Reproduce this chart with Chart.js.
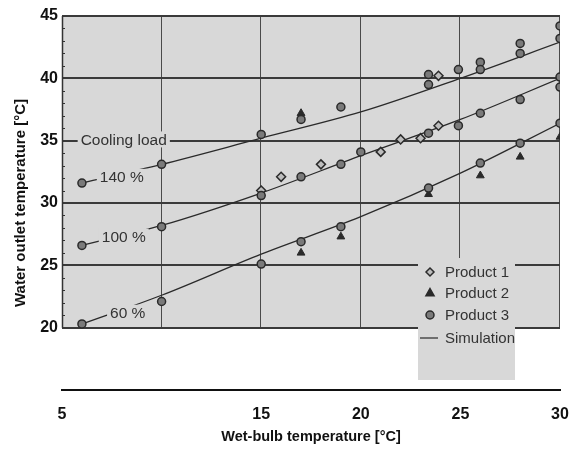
<!DOCTYPE html>
<html><head><meta charset="utf-8">
<script src="https://cdn.jsdelivr.net/npm/chart.js@4"></script>
<style>html,body{margin:0;padding:0;background:#fff}#wrap{width:576px;height:450px;position:relative}</style>
</head><body><div id="wrap"><canvas id="c" width="576" height="450"></canvas></div>
<script>
// ---- data ----
const simX   = [6, 10, 15, 20, 25, 30];
const sim140 = [31.6, 33.1, 35.2, 37.3, 40.0, 42.9];
const sim100 = [26.6, 28.2, 30.8, 33.8, 36.7, 40.0];
const sim60  = [20.3, 22.6, 25.9, 28.9, 32.4, 36.4];

const p1X = [15, 16, 18, 21, 22, 23, 23.9, 23.9];
const p1Y = [31.0, 32.1, 33.1, 34.1, 35.1, 35.2, 36.2, 40.2];

const p2X = [17, 17, 19, 23.4, 26, 28, 30];
const p2Y = [37.2, 26.0, 27.3, 30.7, 32.2, 33.7, 35.3];

const p3X = [6, 6, 6, 10, 10, 10, 15, 15, 15, 17, 17, 17, 19, 19, 19, 20,
             23.4, 23.4, 23.4, 23.4, 24.9, 24.9, 26, 26, 26, 26, 28, 28, 28, 28,
             30, 30, 30, 30, 30];
const p3Y = [31.6, 26.6, 20.3, 33.1, 28.1, 22.1, 35.5, 30.6, 25.1, 36.7, 32.1, 26.9, 37.7, 33.1, 28.1, 34.1,
             40.3, 39.5, 35.6, 31.2, 40.7, 36.2, 41.3, 40.7, 37.2, 33.2, 42.8, 42.0, 38.3, 34.8,
             44.2, 43.2, 40.1, 39.3, 36.4];

const xTickValues = [5, 10, 15, 20, 25, 30];
const xTickLabels = ['5', '', '15', '20', '25', '30'];
const yTickValues = [20, 25, 30, 35, 40, 45];
const seriesNames = ['Product 1', 'Product 2', 'Product 3', 'Simulation'];
const loadLabels  = ['140 %', '100 %', '60 %'];
const headerLabel = 'Cooling load';
const xTitle = 'Wet-bulb temperature [°C]';
const yTitle = 'Water outlet temperature [°C]';

// ---- helpers ----
const pts = (xs, ys) => xs.map((v, i) => ({x: v, y: ys[i]}));
const bgColor = '#d8d8d8';
const ink = '#2a2a2a';
const FAM = '"Liberation Sans", Arial, sans-serif';

// annotation anchors in data units
const labelAnchors = [
  {text: headerLabel, x: 8.1, y: 35.1},
  {text: loadLabels[0], x: 8.0, y: 32.1},
  {text: loadLabels[1], x: 8.1, y: 27.3},
  {text: loadLabels[2], x: 8.3, y: 21.2}
];

function drawMarker(ctx, style, cx, cy) {
  ctx.save();
  ctx.lineWidth = 1.5;
  ctx.strokeStyle = ink;
  if (style === 'rectRot') {
    const r = 4;
    ctx.fillStyle = '#bdbdbd';
    ctx.beginPath();
    ctx.moveTo(cx, cy - r); ctx.lineTo(cx + r, cy); ctx.lineTo(cx, cy + r); ctx.lineTo(cx - r, cy); ctx.closePath();
    ctx.fill(); ctx.stroke();
  } else if (style === 'triangle') {
    const r = 4.5;
    ctx.fillStyle = ink;
    ctx.beginPath();
    ctx.moveTo(cx, cy - r); ctx.lineTo(cx + r * 0.9, cy + r * 0.6); ctx.lineTo(cx - r * 0.9, cy + r * 0.6); ctx.closePath();
    ctx.fill(); ctx.stroke();
  } else if (style === 'circle') {
    ctx.fillStyle = '#7a7a7a';
    ctx.beginPath(); ctx.arc(cx, cy, 4, 0, Math.PI * 2); ctx.fill(); ctx.stroke();
  } else {
    ctx.lineWidth = 1.2;
    ctx.beginPath(); ctx.moveTo(cx - 10, cy); ctx.lineTo(cx + 8, cy); ctx.stroke();
  }
  ctx.restore();
}

const deco = {
  id: 'deco',
  beforeDatasetsDraw(chart) {
    const {ctx, scales: {x, y}} = chart;
    const L = x.getPixelForValue(5), R = x.getPixelForValue(30);
    const T = y.getPixelForValue(45), B = y.getPixelForValue(20);
    ctx.save();
    ctx.fillStyle = bgColor;
    ctx.fillRect(L, T, R - L, B - T);
    ctx.strokeStyle = '#4a4a4a'; ctx.lineWidth = 1;
    xTickValues.slice(1).forEach(v => {
      const px = Math.round(x.getPixelForValue(v)) - 0.5;
      ctx.beginPath(); ctx.moveTo(px, T); ctx.lineTo(px, B); ctx.stroke();
    });
    ctx.strokeStyle = '#3a3a3a'; ctx.lineWidth = 2;
    yTickValues.forEach(v => {
      const py = Math.round(y.getPixelForValue(v));
      ctx.beginPath(); ctx.moveTo(L, py); ctx.lineTo(R, py); ctx.stroke();
    });
    ctx.strokeStyle = '#333'; ctx.lineWidth = 1.5;
    ctx.beginPath(); ctx.moveTo(L + 0.5, T); ctx.lineTo(L + 0.5, B); ctx.stroke();
    ctx.lineWidth = 1;
    for (let v = 21; v < 45; v++) {
      if (v % 5 === 0) continue;
      const py = Math.round(y.getPixelForValue(v)) + 0.5;
      ctx.beginPath(); ctx.moveTo(L, py); ctx.lineTo(L + 3, py); ctx.stroke();
    }
    ctx.restore();
  },
  afterDatasetsDraw(chart) {
    const {ctx, scales: {x, y}} = chart;
    ctx.save();
    ctx.font = '15.5px ' + FAM;
    ctx.textBaseline = 'middle';
    ctx.textAlign = 'center';
    labelAnchors.forEach(a => {
      const px = x.getPixelForValue(a.x), py = y.getPixelForValue(a.y);
      const w = ctx.measureText(a.text).width;
      ctx.fillStyle = bgColor;
      ctx.fillRect(px - w / 2 - 3, py - 8, w + 6, 16);
      ctx.fillStyle = '#333';
      ctx.fillText(a.text, px, py + 1);
    });
    const lx = 418, ly = 258, lw = 97, lh = 122;
    ctx.fillStyle = bgColor;
    ctx.fillRect(lx, ly, lw, lh);
    const styles = ['rectRot', 'triangle', 'circle', 'line'];
    const rows = [272, 293, 315, 338];
    ctx.textAlign = 'left';
    ctx.font = '15px ' + FAM;
    seriesNames.forEach((n, i) => {
      drawMarker(ctx, styles[i], 430, rows[i]);
      ctx.fillStyle = '#333';
      ctx.fillText(n, 445, rows[i] + 1);
    });
    ctx.restore();
  }
};

const lineDs = (data) => ({
  type: 'line', data, showLine: true, borderColor: ink, borderWidth: 1.3,
  pointRadius: 0, tension: 0.3, cubicInterpolationMode: 'monotone', fill: false, order: 2
});

const tickFont = {family: FAM, size: 16, weight: 'bold'};

new Chart(document.getElementById('c'), {
  type: 'scatter',
  data: {
    datasets: [
      lineDs(pts(simX, sim140)),
      lineDs(pts(simX, sim100)),
      lineDs(pts(simX, sim60)),
      {label: seriesNames[0], data: pts(p1X, p1Y), pointStyle: 'rectRot', pointRadius: 4.5,
       backgroundColor: '#bdbdbd', borderColor: ink, borderWidth: 1.5, order: 1},
      {label: seriesNames[1], data: pts(p2X, p2Y), pointStyle: 'triangle', pointRadius: 4.5,
       backgroundColor: ink, borderColor: ink, borderWidth: 1, order: 1},
      {label: seriesNames[2], data: pts(p3X, p3Y), pointStyle: 'circle', pointRadius: 4,
       backgroundColor: '#7a7a7a', borderColor: ink, borderWidth: 1.5, order: 0}
    ]
  },
  options: {
    responsive: false,
    animation: false,
    devicePixelRatio: 1,
    layout: {padding: {left: 12, right: 16, top: 16, bottom: 4}},
    plugins: {legend: {display: false}, tooltip: {enabled: false}},
    scales: {
      x: {
        type: 'linear', min: 5, max: 30,
        afterBuildTicks: s => { s.ticks = xTickValues.map(v => ({value: v})); },
        afterFit: s => { s.height = 56; s.paddingLeft = 0; s.paddingRight = 0; },
        grid: {display: false, drawTicks: false},
        border: {display: true, color: '#111', width: 2},
        ticks: {font: tickFont, color: '#111', padding: 15, maxRotation: 0,
                callback: v => xTickLabels[xTickValues.indexOf(v)] ?? ''},
        title: {display: true, text: xTitle, font: {family: FAM, size: 14.5, weight: 'bold'}, color: '#111', padding: 0}
      },
      y: {
        type: 'linear', min: 15, max: 45,
        afterBuildTicks: s => { s.ticks = yTickValues.map(v => ({value: v})); },
        afterFit: s => { s.width = 50; s.paddingTop = 0; s.paddingBottom = 0; },
        grid: {display: false, drawTicks: false},
        border: {display: false},
        ticks: {font: tickFont, color: '#111', padding: 4},
        title: {display: true, text: yTitle, font: {family: FAM, size: 15, weight: 'bold'}, color: '#111', padding: 0}
      }
    }
  },
  plugins: [deco]
});
</script>
</body></html>
